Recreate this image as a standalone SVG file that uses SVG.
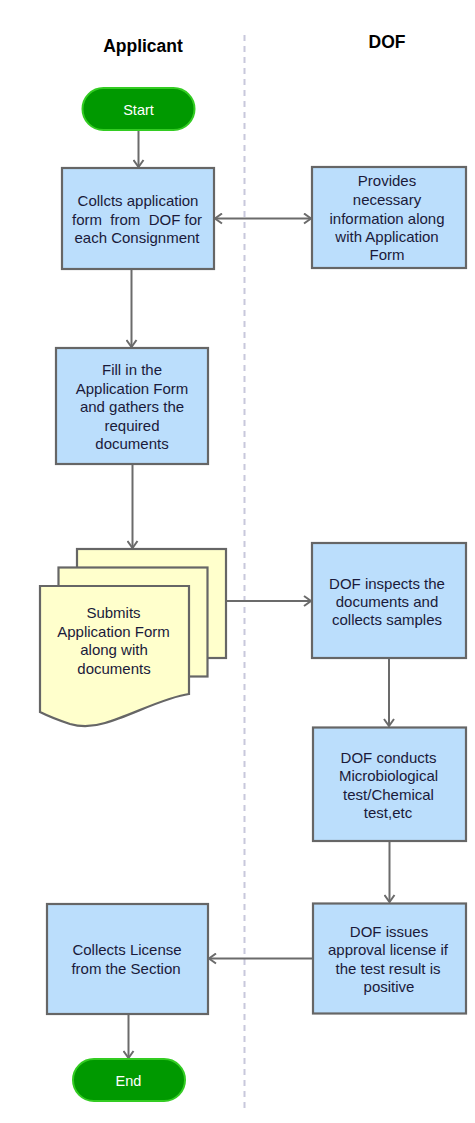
<svg xmlns="http://www.w3.org/2000/svg" width="475" height="1123" viewBox="0 0 475 1123">
<style>
.bg{fill:#ffffff}
.hdr{font-family:"Liberation Sans",Arial,sans-serif;font-size:17.5px;font-weight:bold;fill:#000;text-anchor:middle}
.t{font-family:"Liberation Sans",Arial,sans-serif;font-size:15px;fill:#1a1a3a;text-anchor:middle;white-space:pre}
.tw{font-family:"Liberation Sans",Arial,sans-serif;font-size:14.5px;fill:#ffffff;text-anchor:middle}
.box{fill:#bbdefc;stroke:#666666;stroke-width:2.2}
.doc{fill:#ffffcc;stroke:#666666;stroke-width:2.2}
.term{fill:#009900;stroke:#33cc22;stroke-width:2}
.con{fill:none;stroke:#6b6b6b;stroke-width:2}
.lane{stroke:#c8c8dc;stroke-width:2;stroke-dasharray:6,5}
</style>
<defs>
<marker id="arr" markerUnits="userSpaceOnUse" viewBox="0 0 10 12" refX="8" refY="6" markerWidth="10" markerHeight="12" orient="auto-start-reverse">
<path d="M1,1 L8,6 L1,11" fill="none" stroke="#6b6b6b" stroke-width="2"/>
</marker>
</defs>
<rect class="bg" x="0" y="0" width="475" height="1123"/>
<line class="lane" x1="244.5" y1="35" x2="244.5" y2="1108"/>
<text class="hdr" x="143" y="52">Applicant</text>
<text class="hdr" x="387" y="48">DOF</text>

<g id="connectors">
<line class="con" x1="138.5" y1="131" x2="138.5" y2="167" marker-end="url(#arr)"/>
<line class="con" x1="215" y1="218.5" x2="311" y2="218.5" marker-start="url(#arr)" marker-end="url(#arr)"/>
<line class="con" x1="131.5" y1="270" x2="131.5" y2="347" marker-end="url(#arr)"/>
<line class="con" x1="132.5" y1="465" x2="132.5" y2="548" marker-end="url(#arr)"/>
<line class="con" x1="227" y1="601" x2="311" y2="601" marker-end="url(#arr)"/>
<line class="con" x1="389" y1="659" x2="389" y2="726" marker-end="url(#arr)"/>
<line class="con" x1="389.5" y1="842" x2="389.5" y2="902" marker-end="url(#arr)"/>
<line class="con" x1="312" y1="958.5" x2="209" y2="958.5" marker-end="url(#arr)"/>
<line class="con" x1="128.5" y1="1015" x2="128.5" y2="1058" marker-end="url(#arr)"/>
</g>

<g id="start">
<rect class="term" x="82.5" y="88" width="112" height="42" rx="21"/>
<text class="tw" x="138.5" y="115">Start</text>
</g>

<g id="collect-form">
<rect class="box" x="62" y="168" width="152" height="101"/>
<text class="t" x="138" y="206">Collcts application</text>
<text class="t" x="137" y="224.5">form  from  DOF for</text>
<text class="t" x="137" y="243">each Consignment</text>
</g>

<g id="provides-info">
<rect class="box" x="312" y="167" width="154" height="101"/>
<text class="t" x="387" y="186">Provides</text>
<text class="t" x="387" y="205">necessary</text>
<text class="t" x="387" y="223.5">information along</text>
<text class="t" x="387" y="242">with Application</text>
<text class="t" x="387" y="260">Form</text>
</g>

<g id="fill-form">
<rect class="box" x="56" y="348" width="152" height="116"/>
<text class="t" x="132" y="375">Fill in the</text>
<text class="t" x="132" y="393.5">Application Form</text>
<text class="t" x="132" y="412">and gathers the</text>
<text class="t" x="132" y="430.5">required</text>
<text class="t" x="132" y="449">documents</text>
</g>

<g id="submits">
<rect class="doc" x="77" y="549" width="149" height="109"/>
<rect class="doc" x="58.5" y="567.5" width="149" height="109"/>
<path class="doc" d="M40,586 H189 V694 C165,697 130,716 105,723 C92,727 80,727 70,724 C58,720 48,716 40,712 Z"/>
<text class="t" x="113.5" y="618">Submits</text>
<text class="t" x="113.5" y="636.5">Application Form</text>
<text class="t" x="114" y="655">along with</text>
<text class="t" x="114" y="673.5">documents</text>
</g>

<g id="inspects">
<rect class="box" x="312" y="543" width="154" height="115"/>
<text class="t" x="387" y="588.5">DOF inspects the</text>
<text class="t" x="387" y="607">documents and</text>
<text class="t" x="387" y="625">collects samples</text>
</g>

<g id="conducts-test">
<rect class="box" x="313" y="727.5" width="153" height="113.5"/>
<text class="t" x="388.5" y="762.5">DOF conducts</text>
<text class="t" x="388.5" y="781">Microbiological</text>
<text class="t" x="388.5" y="799.5">test/Chemical</text>
<text class="t" x="388" y="818">test,etc</text>
</g>

<g id="issues-license">
<rect class="box" x="313" y="903.5" width="153" height="110"/>
<text class="t" x="389" y="936.5">DOF issues</text>
<text class="t" x="388" y="955">approval license if</text>
<text class="t" x="388" y="973.5">the test result is</text>
<text class="t" x="389" y="992">positive</text>
</g>

<g id="collect-license">
<rect class="box" x="47" y="904" width="161" height="110"/>
<text class="t" x="127" y="955">Collects License</text>
<text class="t" x="126" y="973.5">from the Section</text>
</g>

<g id="end">
<rect class="term" x="73" y="1059" width="112" height="42" rx="21"/>
<text class="tw" x="128.5" y="1086">End</text>
</g>
</svg>
